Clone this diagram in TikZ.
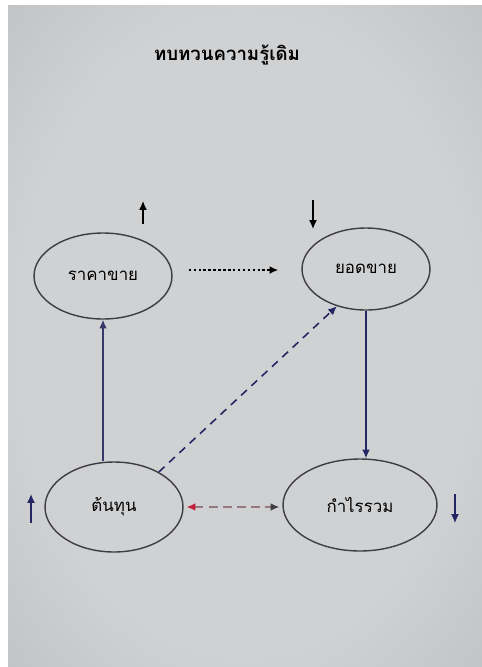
\documentclass[tikz,border=0pt]{standalone}
\usepackage{fontspec}
\newfontfamily\thaifont[Script=Thai]{Loma}
\usetikzlibrary{shapes.geometric,arrows.meta}

\definecolor{paperlight}{RGB}{208,209,211}
\definecolor{paperdark}{RGB}{150,153,157}
\definecolor{inkgray}{RGB}{62,62,66}
\definecolor{navy}{RGB}{36,38,100}
\definecolor{tipred}{RGB}{196,30,60}
\definecolor{dashred}{RGB}{150,120,128}
\pgfdeclareradialshading{paper}{\pgfpoint{0bp}{0bp}}{color(0bp)=(paperlight); color(24bp)=(paperlight); color(72bp)=(paperdark)}

\begin{document}
\begin{tikzpicture}[x=0.02cm,y=-0.02cm,
    oval/.style={ellipse,draw=inkgray,line width=0.8pt,inner sep=0pt,font=\thaifont\fontsize{9.6}{12}\selectfont},
    tip/.style={-{Latex[length=5pt,width=4.5pt]}}]
  \useasboundingbox (0,0) rectangle (482,667);
  \fill[white] (0,0) rectangle (482,667);
  \shade[shading=paper] (8,5) rectangle (482,667);
  \draw (227,55) node[font=\thaifont\bfseries\fontsize{10.6}{13}\selectfont] (title){ทบทวนความรู้เดิม};
  \draw
    (103,276) node[oval,minimum width=2.76cm,minimum height=1.72cm] (0){ราคาขาย}
    (366,269) node[oval,minimum width=2.56cm,minimum height=1.64cm] (1){ยอดขาย}
    (114,507) node[oval,minimum width=2.76cm,minimum height=1.80cm] (2){ต้นทุน}
    (360,505) node[oval,minimum width=3.08cm,minimum height=1.84cm] (3){กำไรรวม};
  % small up/down marks
  \coordinate (a0) at (143,224); \coordinate (b0) at (143,201);
  \coordinate (a1) at (313,200); \coordinate (b1) at (313,229);
  \coordinate (a2) at (31,523);  \coordinate (b2) at (31,494);
  \coordinate (a3) at (455,494); \coordinate (b3) at (455,523);
  \begin{scope}[tip,line width=0.8pt]
    \draw[black] (a0) to (b0);
    \draw[black] (a1) to (b1);
    \draw[navy] (a2) to (b2);
    \draw[navy] (a3) to (b3);
  \end{scope}
  \begin{scope}[tip,line width=0.9pt]
    \draw[black,dash pattern=on 1.4pt off 1.4pt,shorten <=3.2mm,shorten >=4.6mm]
      ([yshift=3.4pt]0.east) to ([yshift=3.4pt]0.east -| 1.west);
    \draw[navy] (1.south) to (1.south |- 3.north);
    \draw[navy!80!gray] (0.south |- 2.north) to (0.south);
    \draw[navy,dash pattern=on 4.5pt off 3.5pt] (2.38) to (1.232);
    \draw[dashred,dash pattern=on 5pt off 3pt,{Latex[length=5pt,width=4.5pt,tipred]}-{Latex[length=5pt,width=4.5pt,inkgray]},shorten <=0.6mm,shorten >=0.6mm]
      (2.east) to (2.east -| 3.west);
  \end{scope}
\end{tikzpicture}
\end{document}
